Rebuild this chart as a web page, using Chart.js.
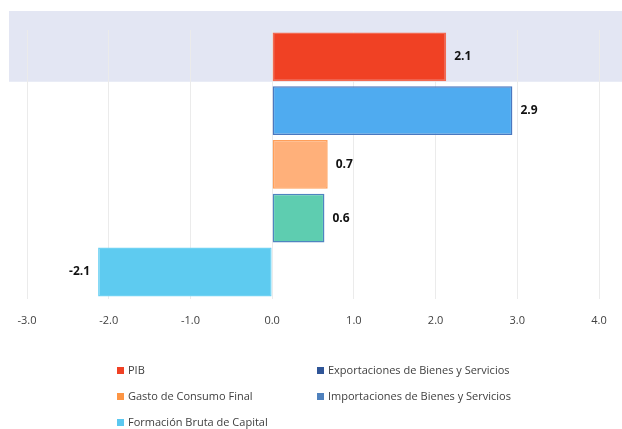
<!DOCTYPE html>
<html>
<head>
<meta charset="utf-8">
<script src="https://cdn.jsdelivr.net/npm/chart.js@4"></script>
<style>
  body { margin: 0; background: #fff; }
  #wrap { position: relative; width: 622px; height: 429px; }
  #chartBox { position: absolute; left: 0; top: 0; width: 622px; height: 355px; }
  #legend { position: absolute; left: 0; top: 0; width: 622px; height: 429px; pointer-events: none; }
  .item { position: absolute; font-family: "Open Sans", sans-serif; font-size: 11px; color: #404040; white-space: nowrap; line-height: 14px; }
  .item span { display: inline-block; width: 7px; height: 7px; margin-right: 4px; vertical-align: 0px; }
</style>
</head>
<body>
<div id="wrap">
  <div id="chartBox"><canvas id="barChart"></canvas></div>
  <div id="legend"></div>
</div>
<script>
// datos
const categories = [
  "PIB",
  "Exportaciones de Bienes y Servicios",
  "Gasto de Consumo Final",
  "Importaciones de Bienes y Servicios",
  "Formación Bruta de Capital"
];
const values = [2.13, 2.94, 0.68, 0.64, -2.13];
const xTicks = [-3, -2, -1, 0, 1, 2, 3, 4];

const barColors = ['#f04124', '#4fabf0', '#ffb07a', '#5ecdb0', '#5ecbf0'];
const barBorders = ['#f26a52', '#4a78c0', '#ff9f5a', '#4f85c0', '#6fd2f3'];
const legendColors = ['#f04124', '#2f5597', '#fd9544', '#4f81bd', '#5bc8f0'];

// franja de fondo detras de PIB
const bandPlugin = {
  id: 'band',
  beforeDraw(chart) {
    const c = chart.ctx;
    const y = chart.scales.y;
    const top = chart.chartArea.top - 19;
    const bottom = (y.getPixelForValue(0) + y.getPixelForValue(1)) / 2 - 2;
    c.save();
    c.fillStyle = '#e3e6f3';
    c.fillRect(9, top, chart.width - 9, bottom - top);
    c.restore();
  }
};

// etiquetas de valor
const valuePlugin = {
  id: 'values',
  afterDatasetsDraw(chart) {
    const c = chart.ctx;
    const meta = chart.getDatasetMeta(0);
    c.save();
    c.font = 'bold 12px "Open Sans", sans-serif';
    c.fillStyle = '#111';
    c.textBaseline = 'middle';
    meta.data.forEach((bar, i) => {
      const v = values[i];
      const txt = v.toFixed(1);
      if (v >= 0) {
        c.textAlign = 'left';
        c.fillText(txt, bar.x + 8, bar.y);
      } else {
        c.textAlign = 'right';
        c.fillText(txt, bar.x - 8, bar.y);
      }
    });
    c.restore();
  }
};

const ctx = document.getElementById('barChart').getContext('2d');

new Chart(ctx, {
  type: 'bar',
  data: {
    labels: categories,
    datasets: [{
      data: values,
      backgroundColor: barColors,
      borderColor: barBorders,
      borderWidth: 1.5,
      borderSkipped: false,
      categoryPercentage: 1,
      barPercentage: 0.91
    }]
  },
  options: {
    indexAxis: 'y',
    responsive: true,
    maintainAspectRatio: false,
    animation: false,
    layout: {
      padding: { left: 27, right: 23, top: 30, bottom: 13 }
    },
    plugins: {
      legend: { display: false },
      tooltip: { enabled: false }
    },
    scales: {
      x: {
        min: -3,
        max: 4,
        afterBuildTicks: (axis) => {
          axis.ticks = xTicks.map(v => ({ value: v }));
        },
        grid: {
          color: '#ebebeb',
          drawTicks: false
        },
        border: { display: false },
        ticks: {
          padding: 15,
          color: '#404040',
          font: { family: 'Open Sans', size: 11 },
          callback: (v) => Number(v).toFixed(1)
        }
      },
      y: {
        display: false
      }
    }
  },
  plugins: [bandPlugin, valuePlugin]
});

// leyenda en dos columnas
const legend = document.getElementById('legend');
const legendPos = [
  [117, 363], [317, 363],
  [117, 389], [317, 389],
  [117, 415]
];
categories.forEach((name, i) => {
  const d = document.createElement('div');
  d.className = 'item';
  d.style.left = legendPos[i][0] + 'px';
  d.style.top = legendPos[i][1] + 'px';
  d.innerHTML = `<span style="background:${legendColors[i]}"></span>${name}`;
  legend.appendChild(d);
});
</script>
</body>
</html>
